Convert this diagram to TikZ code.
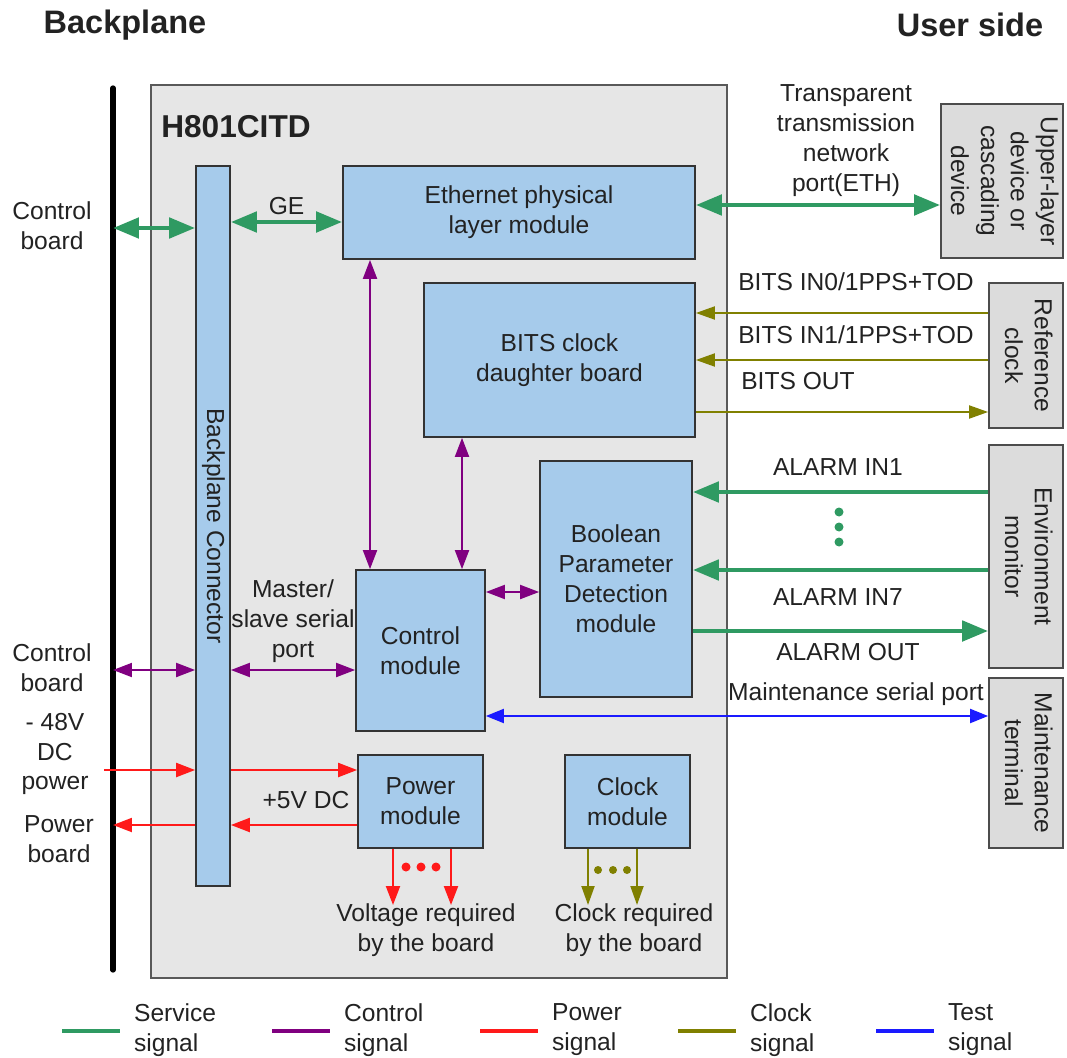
\documentclass[tikz,border=0pt]{standalone}
\usepackage{fontspec}
\setmainfont{Liberation Sans}
\usepackage{tikz}
\usetikzlibrary{arrows.meta,positioning,calc}
\definecolor{svcgreen}{HTML}{2F9A62}
\definecolor{ctlpurple}{HTML}{800080}
\definecolor{pwrred}{HTML}{FF1A1A}
\definecolor{clkolive}{HTML}{808000}
\definecolor{tstblue}{HTML}{1A1AFF}
\definecolor{blkblue}{HTML}{A6CBEB}
\definecolor{boardgray}{HTML}{E6E6E6}
\definecolor{extgray}{HTML}{DCDCDC}
\definecolor{txt}{HTML}{222222}
\newcommand{\fs}{\fontsize{14}{17}\selectfont}
\newcommand{\rot}[1]{\rotatebox{-90}{\begin{tabular}{@{}c@{}}#1\end{tabular}}}
\tikzset{
  % Boxes
  board/.style={draw=black!65,line width=1.2pt,fill=boardgray,inner sep=0pt},
  blk/.style={draw=black!80,line width=1pt,fill=blkblue,align=center,
              font=\fs,text=txt,inner sep=0pt},
  ext/.style={draw=black!70,line width=1pt,fill=extgray,font=\fs,text=txt,
              inner sep=0pt},
  % Labels
  lbl/.style={align=center,font=\fs,text=txt,inner sep=1pt},
  ttl/.style={font=\fontsize{18.5}{22}\selectfont\bfseries,text=txt,inner sep=0pt},
  % Signal lines
  svc/.style={svcgreen,line width=2.8pt,>={Triangle[length=5.2mm,width=4mm]}},
  ctl/.style={ctlpurple,line width=1.1pt,>={Triangle[length=3.8mm,width=2.8mm]}},
  pwr/.style={pwrred,line width=1.2pt,>={Triangle[length=3.8mm,width=2.8mm]}},
  clk/.style={clkolive,line width=1.1pt,>={Triangle[length=3.8mm,width=2.6mm]}},
  tst/.style={tstblue,line width=1.1pt,>={Triangle[length=3.6mm,width=2.8mm]}}
}

\begin{document}
\begin{tikzpicture}[x=0.02cm,y=-0.02cm]
  \useasboundingbox (0,0) rectangle (1067,1057);

  % Headings
  \node[ttl] (hbp) at (125,25) {Backplane};
  \node[ttl] (hus) at (970,25) {User side};

  % Backplane line
  \coordinate (bptop) at (113,88);
  \coordinate (bpbot) at (113,970);
  \draw[black,line width=3pt,line cap=round] (bptop) -- (bpbot);

  % Board and its modules
  \node[board,minimum width=11.52cm,minimum height=17.86cm] (brd) at (439,531.5) {};
  \node[ttl,font=\fontsize{18}{22}\selectfont\bfseries] (bname) at (236,127) {H801CITD};
  \node[blk,minimum width=0.68cm,minimum height=14.4cm] (conn) at (213,526) {\rot{Backplane Connector}};
  \node[blk,minimum width=7.04cm,minimum height=1.86cm] (eth) at (519,212.5) {Ethernet physical\\layer module};
  \node[blk,minimum width=5.42cm,minimum height=3.08cm] (bits) at (559.5,360) {BITS clock\\daughter board};
  \node[blk,minimum width=3.04cm,minimum height=4.72cm] (bool) at (616,579) {Boolean\\Parameter\\Detection\\module};
  \node[blk,minimum width=2.58cm,minimum height=3.22cm] (ctrl) at (420.5,650.5) {Control\\module};
  \node[blk,minimum width=2.5cm,minimum height=1.86cm] (pwrm) at (420.5,801.5) {Power\\module};
  \node[blk,minimum width=2.5cm,minimum height=1.86cm] (clkm) at (627.5,801.5) {Clock\\module};

  % User side devices
  \node[ext,minimum width=2.44cm,minimum height=3.08cm] (upper) at (1002,181) {\rot{Upper-layer\\device or\\cascading\\device}};
  \node[ext,minimum width=1.48cm,minimum height=2.9cm] (refclk) at (1026,355.5) {\rot{Reference\\clock}};
  \node[ext,minimum width=1.48cm,minimum height=4.46cm] (env) at (1026,556.5) {\rot{Environment\\monitor}};
  \node[ext,minimum width=1.48cm,minimum height=3.4cm] (maint) at (1026,763) {\rot{Maintenance\\terminal}};

  % Left side labels
  \node[lbl] (cb1) at (52,226) {Control\\board};
  \node[lbl] (cb2) at (52,668) {Control\\board};
  \node[lbl] (dcin) at (55,754) {- 48V\\DC\\power};
  \node[lbl] (pb) at (59,839) {Power\\board};

  % Service signals
  \draw[svc,<->] (bptop |- 0,228) -- (conn.west |- 0,228);
  \draw[svc,<->] (conn.east |- 0,222) -- node[lbl,above=2pt] (ge) {GE} (eth.west |- 0,222);
  \draw[svc,<->] (eth.east |- 0,205) -- (upper.west |- 0,205);
  \node[lbl] (ethlb) at (846,140.5) {Transparent\\transmission\\network\\port(ETH)};
  \draw[svc,->] (env.west |- 0,492) -- (bool.east |- 0,492);
  \draw[svc,->] (env.west |- 0,570) -- (bool.east |- 0,570);
  \draw[svc,->] (bool.east |- 0,631) -- (env.west |- 0,631);
  \node[lbl] (al1) at (838,467) {ALARM IN1};
  \node[lbl] (al7) at (838,597) {ALARM IN7};
  \node[lbl] (alo) at (848,652) {ALARM OUT};
  \foreach \y in {512,527,542}
    \fill[svcgreen] (839,\y) circle (4.5);

  % Control signals
  \draw[ctl,<->] (eth.south -| 370,0) -- (ctrl.north -| 370,0);
  \draw[ctl,<->] (bits.south -| 462,0) -- (ctrl.north -| 462,0);
  \draw[ctl,<->] (ctrl.east |- 0,592) -- (bool.west |- 0,592);
  \draw[ctl,<->] (bptop |- 0,670) -- (conn.west |- 0,670);
  \draw[ctl,<->] (conn.east |- 0,670) -- (ctrl.west |- 0,670);
  \node[lbl] (msp) at (293,621) {Master/\\slave serial\\port};

  % Clock signals
  \draw[clk,->] (refclk.west |- 0,313) -- (bits.east |- 0,313);
  \draw[clk,->] (refclk.west |- 0,360) -- (bits.east |- 0,360);
  \draw[clk,->] (bits.east |- 0,412) -- (refclk.west |- 0,412);
  \node[lbl] (bin0) at (856,282) {BITS IN0/1PPS+TOD};
  \node[lbl] (bin1) at (856,335) {BITS IN1/1PPS+TOD};
  \node[lbl] (bout) at (798,381) {BITS OUT};

  % Test signal
  \draw[tst,<->] (ctrl.east |- 0,716) -- (maint.west |- 0,716);
  \node[lbl] (msp2) at (856,694) {Maintenance serial port};

  % Power signals
  \draw[pwr,->] ([xshift=-5]bptop |- 0,770) -- (conn.west |- 0,770);
  \draw[pwr,->] (conn.east |- 0,770) -- (pwrm.west |- 0,770);
  \draw[pwr,->] (pwrm.west |- 0,825) -- (conn.east |- 0,825);
  \draw[pwr,->] (conn.west |- 0,825) -- (bptop |- 0,825);
  \node[lbl] (p5v) at (306,800) {+5V DC};

  % Outputs of power and clock modules
  \node[lbl] (vreq) at (426,930) {Voltage required\\by the board};
  \node[lbl] (creq) at (634,930) {Clock required\\by the board};
  \draw[pwr,->] (pwrm.south -| 393,0) -- ([yshift=-2pt]vreq.north -| 393,0);
  \draw[pwr,->] (pwrm.south -| 451,0) -- ([yshift=-2pt]vreq.north -| 451,0);
  \draw[clk,->] (clkm.south -| 588,0) -- ([yshift=-2pt]creq.north -| 588,0);
  \draw[clk,->] (clkm.south -| 637,0) -- ([yshift=-2pt]creq.north -| 637,0);
  \foreach \x in {406,421,436}
    \fill[pwrred] (\x,867) circle (4.5);
  \foreach \x in {598,613,627}
    \fill[clkolive] (\x,870) circle (4);

  % Legend
  \foreach \s/\x/\t in {svc/62/Service,ctl/272/Control,pwr/480/Power,clk/678/Clock,tst/876/Test}{
    \draw[\s,line width=2.6pt] (\x,1031) -- ++(58,0);
    \node[lbl,align=left,anchor=west] (lg\s) at (\x+70,1030) {\t\\signal};
  }
\end{tikzpicture}
\end{document}
